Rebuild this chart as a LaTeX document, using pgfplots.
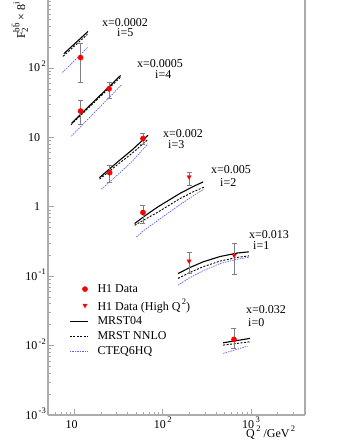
\documentclass[border=0pt]{standalone}
\usepackage{fontspec}
\setmainfont{Liberation Serif}
\usepackage{pgfplots}
\pgfplotsset{compat=1.18}
\definecolor{cteq}{RGB}{95,95,255}
\newcommand{\ex}[1]{\raisebox{0.45em}{\fontsize{8.5}{8.5}\selectfont\,#1}}
\newcommand{\pex}{\phantom{\ex{2}}}
\pgfplotsset{
  linelegend/.style={legend image code/.code={\draw[##1] (0pt,0pt)--(18pt,0pt);}},
  marklegend/.style={legend image code/.code={\path[draw=none,fill=none] (0pt,0pt) rectangle (18pt,0.1pt); \draw[##1] plot coordinates {(15pt,0pt)};}},
}

\begin{document}
\begin{tikzpicture}
\fontsize{12}{14}\selectfont
\begin{axis}[
  at={(0,0)}, anchor=south west,
  scale only axis, width=257pt, height=416.5pt,
  xmode=log, ymode=log,
  xmin=5, xmax=4100, ymin=1e-3, ymax=1e3,
  axis x line*=bottom, axis y line*=left,
  axis line style={gray!65, line width=1.1pt},
  tick style={gray!70, line width=0.6pt},
  tick align=inside,
  major tick length=6pt, minor tick length=3pt,
  xtick={10,100,1000},
  minor xtick={6,7,8,9,20,30,40,50,60,70,80,90,200,300,400,500,600,700,800,900,2000,3000,4000},
  xticklabels={10\pex, 10\ex{2}, 10\ex{3}},
  ytick={0.001,0.01,0.1,1,10,100},
  minor ytick={0.002,0.003,0.004,0.005,0.006,0.007,0.008,0.009,
    0.02,0.03,0.04,0.05,0.06,0.07,0.08,0.09,
    0.2,0.3,0.4,0.5,0.6,0.7,0.8,0.9,
    2,3,4,5,6,7,8,9,20,30,40,50,60,70,80,90,200,300,400,500,600,700,800,900},
  yticklabels={10\ex{-3},10\ex{-2},10\ex{-1},1\pex,10\pex,10\ex{2}},
  ticklabel style={font=\fontsize{12}{14}\selectfont},
  yticklabel style={anchor=base east, yshift=-4pt, inner sep=1pt, xshift=-1pt},
  xticklabel style={anchor=north, inner sep=1pt, yshift=-1pt},
  clip=false,
  legend style={draw=none, fill=none, at={(0.071,0.324)}, anchor=north west,
    font=\fontsize{12}{14}\selectfont, cells={anchor=west}, row sep=1pt,
    /tikz/every odd column/.append style={column sep=7pt}},
  error bars/y dir=both, error bars/y explicit,
  error bars/error bar style={gray, line width=0.5pt},
  error bars/error mark options={gray, line width=0.5pt, mark size=2.5pt, rotate=90},
]
% legend entries
\addlegendimage{only marks, mark=*, red, mark size=2.6pt, marklegend}
\addlegendentry{H1 Data}
\addlegendimage{only marks, mark=triangle*, red, mark size=2.4pt, mark options={rotate=180}, marklegend}
\addlegendentry{H1 Data (High Q\ex{2})}
\addlegendimage{black, line width=1.1pt, linelegend}
\addlegendentry{MRST04}
\addlegendimage{black, line width=0.9pt, dash pattern=on 2pt off 1.5pt, linelegend}
\addlegendentry{MRST NNLO}
\addlegendimage{draw=cteq, color=cteq, line width=0.8pt, dash pattern=on 1.5pt off 1pt, linelegend}
\addlegendentry{CTEQ6HQ}

% MRST04 (solid)
\pgfplotsset{mrst/.style={black, line width=1.1pt, forget plot}}
\addplot[mrst] coordinates {(7.55,160) (14.2,335)};
\addplot[mrst] coordinates {(9.3,16.1) (33.3,78)};
\addplot[mrst] coordinates {(19.2,2.63) (30,4.3) (45,6.6) (68,10.7)};
\addplot[mrst] coordinates {(48,0.573) (63,0.743) (88.5,1.0) (158,1.566) (224,1.97) (287,2.28)};
\addplot[mrst] coordinates {(149,0.109) (200,0.132) (287,0.161) (447,0.192) (708,0.216) (949,0.224)};
\addplot[mrst] coordinates {(484,0.01097) (975,0.0127)};

% MRST NNLO (dashed)
\pgfplotsset{nnlo/.style={black, line width=0.9pt, dash pattern=on 2pt off 1.5pt, forget plot}}
\addplot[nnlo] coordinates {(7.4,147) (14.0,305)};
\addplot[nnlo] coordinates {(9.1,15.2) (33,73)};
\addplot[nnlo] coordinates {(19.2,2.5) (30,3.95) (45,5.9) (68,9.3)};
\addplot[nnlo] coordinates {(48,0.54) (63,0.66) (88.5,0.84) (158,1.32) (224,1.65) (292,1.91)};
\addplot[nnlo] coordinates {(149,0.093) (200,0.112) (287,0.137) (447,0.165) (708,0.187) (949,0.196)};
\addplot[nnlo] coordinates {(484,0.01016) (975,0.01134)};

% CTEQ6HQ (blue)
\pgfplotsset{cteqs/.style={cteq, line width=0.7pt, dash pattern=on 1.5pt off 1pt, forget plot}}
\addplot[cteqs] coordinates {(7.3,86) (14.1,197)};
\addplot[cteqs] coordinates {(9.2,10.4) (34.5,58)};
\addplot[cteqs] coordinates {(20.1,1.79) (30,2.8) (45,4.5) (68,8.1)};
\addplot[cteqs] coordinates {(50,0.367) (63,0.47) (88.5,0.64) (158,1.08) (224,1.45) (292,1.79)};
\addplot[cteqs] coordinates {(149,0.0743) (200,0.094) (287,0.12) (447,0.152) (708,0.176) (949,0.187)};
\addplot[cteqs] coordinates {(484,0.00772) (920,0.00984)};

% H1 data
\addplot[only marks, mark=*, red, mark size=2.6pt, forget plot]
  table[x=q2, y=f, y error plus=ep, y error minus=em] {
q2    f       ep      em
11.7  141     83      79
11.7  23.9    10.1    8.4
24.6  50      12      14
25    3.1     0.85    0.87
59.7  9.6     1.7     1.7
59.7  0.826   0.224   0.256
642   0.01227 0.0054  0.0032
};
% H1 data (high Q2)
\addplot[only marks, mark=triangle*, red, mark size=2.4pt, mark options={rotate=180}, forget plot]
  table[x=q2, y=f, y error plus=ep, y error minus=em] {
q2    f       ep      em
199   2.69    0.48    0.65
199   0.165   0.059   0.056
646   0.2     0.094   0.094
};
\end{axis}

% labels (positions in pt from axis origin)
\begin{scope}[every node/.style={inner sep=0pt, anchor=base west, font=\fontsize{12}{14}\selectfont}]
\node at (54pt,388pt) {x=0.0002};
\node at (69pt,378pt) {i=5};
\node at (89pt,347pt) {x=0.0005};
\node at (107pt,336pt) {i=4};
\node at (115pt,277pt) {x=0.002};
\node at (120pt,266pt) {i=3};
\node at (163pt,241pt) {x=0.005};
\node at (172pt,229pt) {i=2};
\node at (201pt,176pt) {x=0.013};
\node at (205pt,165pt) {i=1};
\node at (198pt,102pt) {x=0.032};
\node at (200pt,89pt) {i=0};
\node at (198pt,-22pt) {Q\ex{2} /GeV\ex{2}};
\node[rotate=90] at (-23pt,376pt) {F\rlap{\raisebox{-3pt}{\fontsize{9}{9}\selectfont 2}}\raisebox{5.5pt}{\fontsize{9}{9}\selectfont b\={b}} × 8\raisebox{5.5pt}{\fontsize{9}{9}\selectfont i}};
\end{scope}
\draw[gray!65, line width=1.1pt] (257pt,0pt) -- (257pt,420pt);
\pgfresetboundingbox
\useasboundingbox (-48pt,-33pt) rectangle (298pt,415pt);
\end{tikzpicture}
\end{document}
